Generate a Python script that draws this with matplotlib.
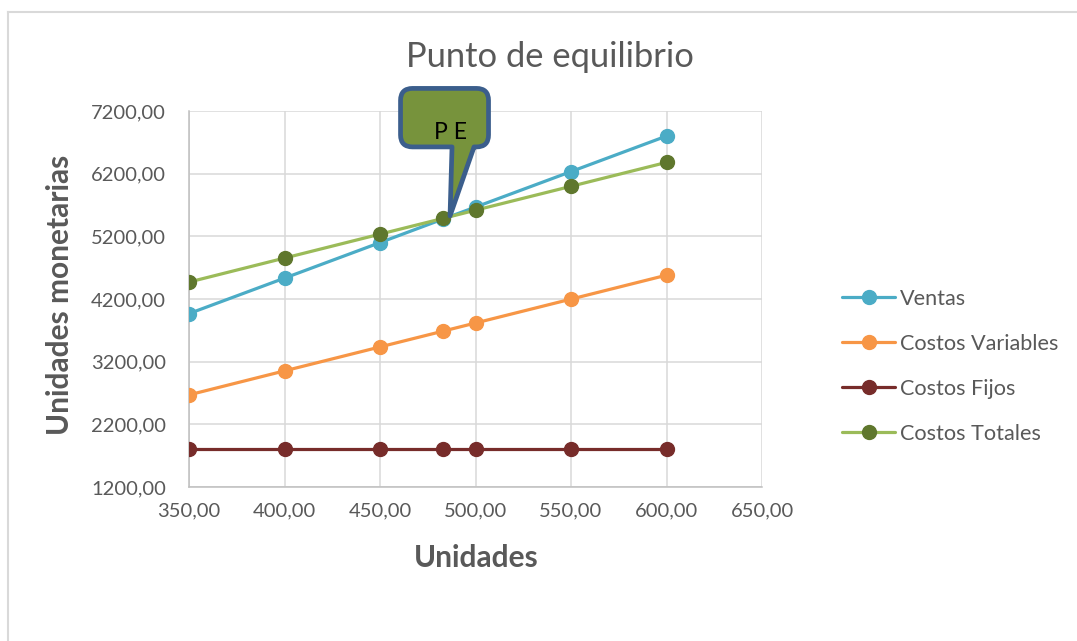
import matplotlib
matplotlib.use("Agg")
import matplotlib.pyplot as plt
import matplotlib.transforms as mtransforms
from matplotlib.path import Path
from matplotlib.patches import PathPatch
from matplotlib.lines import Line2D
from matplotlib.ticker import FuncFormatter, FixedLocator

# Data
unidades = [350, 400, 450, 483, 500, 550, 600]
ventas = [3967, 4533, 5100, 5476, 5667, 6233, 6800]
costos_variables = [2670, 3053, 3435, 3687, 3817, 4198, 4580]
costos_fijos = [1800, 1800, 1800, 1800, 1800, 1800, 1800]
costos_totales = [4470, 4853, 5235, 5486, 5617, 5998, 6380]
series_names = ["Ventas", "Costos Variables", "Costos Fijos", "Costos Totales"]
x_ticks = [350, 400, 450, 500, 550, 600, 650]
y_ticks = [1200, 2200, 3200, 4200, 5200, 6200, 7200]
pe_index = 3
pe_label = "P E"

FONT = ["Lato", "DejaVu Sans"]
TEXT = "#595959"
GRID = "#D9D9D9"

plt.rcParams["font.family"] = FONT

fig = plt.figure(figsize=(10.77, 6.41), dpi=100)
fig.patch.set_facecolor("white")
ax = fig.add_axes([189 / 1077, 1 - 487 / 641, (762 - 189) / 1077, (487 - 111) / 641])

line_w = 2.3
msize = 10
styles = [
    (ventas, "#4BACC6", "#4BACC6"),
    (costos_variables, "#F79646", "#F79646"),
    (costos_fijos, "#772C2A", "#772C2A"),
    (costos_totales, "#9BBB59", "#5F772D"),
]
for (vals, lc, mc), name in zip(styles, series_names):
    ax.plot(unidades, vals, color=lc, lw=line_w, marker="o", ms=msize,
            markerfacecolor=mc, markeredgecolor=mc, label=name,
            solid_capstyle="round", zorder=3)

ax.set_xlim(350, 650)
ax.set_ylim(1200, 7200)
ax.xaxis.set_major_locator(FixedLocator(x_ticks))
ax.yaxis.set_major_locator(FixedLocator(y_ticks))
fmt = FuncFormatter(lambda v, p: f"{v:.2f}".replace(".", ","))
ax.xaxis.set_major_formatter(fmt)
ax.yaxis.set_major_formatter(fmt)
ax.tick_params(axis="both", length=0, labelsize=14.5, colors=TEXT)
ax.tick_params(axis="y", pad=16.5)
ax.tick_params(axis="x", pad=11)
ax.grid(True, color=GRID, lw=1.1, zorder=0)
ax.set_axisbelow(True)
for side in ["top", "right"]:
    ax.spines[side].set_visible(False)
for side in ["left", "bottom"]:
    ax.spines[side].set_color("#BFBFBF")
    ax.spines[side].set_linewidth(1.1)

ax.set_xlabel("Unidades", fontsize=21.5, fontweight="bold", color=TEXT)
ax.set_ylabel("Unidades monetarias", fontsize=21.5, fontweight="bold", color=TEXT)
ax.xaxis.set_label_coords(0.501, -0.189)
ax.xaxis.label.set_verticalalignment("center")
ax.yaxis.set_label_coords(-0.225, 0.512)
ax.yaxis.label.set_verticalalignment("center")

fig.text(549.5 / 1077, 1 - 57 / 641, "Punto de equilibrio", fontsize=24.8,
         color=TEXT, ha="center", va="center")

leg = ax.legend(loc="upper left", bbox_to_anchor=(842 / 1077, 1 - 289 / 641),
                bbox_transform=fig.transFigure, frameon=False, fontsize=15.6,
                labelcolor=TEXT, handlelength=2.45, handletextpad=0.23,
                labelspacing=1.15, borderaxespad=0, borderpad=0)

# Break-even callout (shape in pixels relative to the break-even point)
L, R, T, B, r = -42.5, 45.5, 130.0, 71.5, 12.0
x1, x2 = 9.0, 31.0
tip = (7.0, 2.5)
verts = [tip, (x2, B), (R - r, B), (R, B), (R, B + r), (R, T - r), (R, T),
         (R - r, T), (L + r, T), (L, T), (L, T - r), (L, B + r), (L, B),
         (L + r, B), (x1, B), tip]
codes = [Path.MOVETO, Path.LINETO, Path.LINETO, Path.CURVE3, Path.CURVE3,
         Path.LINETO, Path.CURVE3, Path.CURVE3, Path.LINETO, Path.CURVE3,
         Path.CURVE3, Path.LINETO, Path.CURVE3, Path.CURVE3, Path.LINETO,
         Path.CLOSEPOLY]
pe_x, pe_y = unidades[pe_index], costos_totales[pe_index]
trans = mtransforms.Affine2D().scale(fig.dpi / 100.0) + \
    mtransforms.ScaledTranslation(pe_x, pe_y, ax.transData)
callout = PathPatch(Path(verts, codes), facecolor="#77933C", edgecolor="#3B5E8C",
                    lw=3.4, joinstyle="round", transform=trans, clip_on=False,
                    zorder=10)
ax.add_patch(callout)
ax.text(7.0, 86.0, pe_label, fontsize=16.5, color="black", ha="center",
        va="center", zorder=11, transform=trans, clip_on=False)

# Chart frame edges
fig.add_artist(Line2D([8 / 1077, 8 / 1077], [0, 1 - 12 / 641], transform=fig.transFigure,
                      color=GRID, lw=1.5))
fig.add_artist(Line2D([8 / 1077, 1], [1 - 12 / 641, 1 - 12 / 641], transform=fig.transFigure,
                      color=GRID, lw=1.5))

fig.savefig("out.png", dpi=100)
